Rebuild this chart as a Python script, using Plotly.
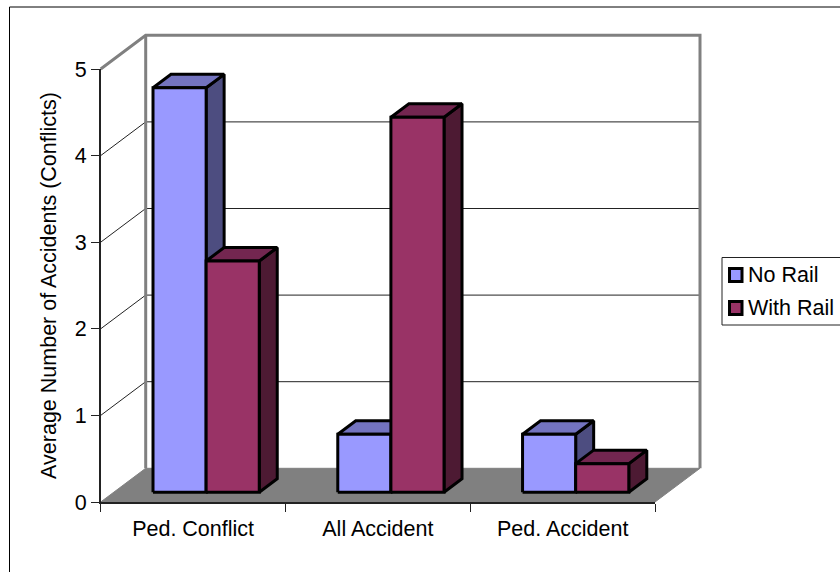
import plotly.graph_objects as go

categories = ["Ped. Conflict", "All Accident", "Ped. Accident"]
series_names = ["No Rail", "With Rail"]
no_rail = [4.67, 0.67, 0.67]
with_rail = [2.67, 4.33, 0.33]
y_ticks = [0, 1, 2, 3, 4, 5]

W, H = 840, 572
FONT = "Liberation Sans"
FS = 21.5

# pixel frame of the front plane of the 3D box
PX_L, PX_R = 100.7, 655.0
PX_Y0, PX_Y5 = 502.0, 69.0
DEPTH_PX_X, DEPTH_PX_Y = 45.0, 33.7
PAD = 12

per_cat = (PX_R - PX_L) / 3
per_val = (PX_Y0 - PX_Y5) / 5
DX = DEPTH_PX_X / per_cat   # full depth in category units
DY = DEPTH_PX_Y / per_val   # full depth in value units

# bars sit between these fractions of the depth
D_FRONT = 0.29
D_BACK = 0.69
GAP = 0.2125
BAR_W = (1 - 2 * GAP) / 2

NAVY = ("#9999FF", "#7373BF", "#4D4D80")
WINE = ("#993366", "#732650", "#4D1A33")


def proj(x, v, d):
    return x + d * DX, v + d * DY


def poly(points, fill, line="black", width=3, name=None):
    xs = [p[0] for p in points] + [points[0][0]]
    ys = [p[1] for p in points] + [points[0][1]]
    return go.Scatter(x=xs, y=ys, mode="lines", fill="toself", fillcolor=fill, name=name,
                      line=dict(color=line, width=width), showlegend=False,
                      hoverinfo="skip", xaxis="x", yaxis="y")


def seg(points, color, width):
    return go.Scatter(x=[p[0] for p in points], y=[p[1] for p in points], mode="lines",
                      line=dict(color=color, width=width), showlegend=False,
                      hoverinfo="skip", xaxis="x", yaxis="y")


def box(x0, x1, v, colors, name):
    front, top, side = colors
    out = []
    # side, top, then front so the front outline stays on top
    out.append(poly([proj(x1, 0, D_FRONT), proj(x1, 0, D_BACK), proj(x1, v, D_BACK), proj(x1, v, D_FRONT)], side, name=name))
    out.append(poly([proj(x0, v, D_FRONT), proj(x1, v, D_FRONT), proj(x1, v, D_BACK), proj(x0, v, D_BACK)], top, name=name))
    out.append(poly([proj(x0, 0, D_FRONT), proj(x1, 0, D_FRONT), proj(x1, v, D_FRONT), proj(x0, v, D_FRONT)], front, name=name))
    return out


fig = go.Figure()

# floor
fig.add_trace(poly([proj(0, 0, 0), proj(3, 0, 0), proj(3, 0, 1), proj(0, 0, 1)], "#808080", "#808080", 1))

# gridlines over left wall and back wall
for t in y_ticks[1:-1]:
    fig.add_trace(seg([proj(0, t, 0), proj(0, t, 1), proj(3, t, 1)], "#222222", 1))

# wall edges
fig.add_trace(seg([proj(0, 5, 0), proj(0, 5, 1), proj(3, 5, 1), proj(3, 0, 1)], "#808080", 3))
fig.add_trace(seg([proj(0, 5, 1), proj(0, 0, 1)], "#808080", 3))

for i in range(len(categories)):
    x0 = i + GAP
    fig.add_traces(box(x0, x0 + BAR_W, no_rail[i], NAVY, series_names[0]))
    fig.add_traces(box(x0 + BAR_W, x0 + 2 * BAR_W, with_rail[i], WINE, series_names[1]))

# keeps the visible axes alive
fig.add_trace(go.Scatter(x=[None], y=[None], mode="markers", showlegend=False,
                         xaxis="x2", yaxis="y2"))


def px_x(p):
    return p / W


def px_y(p):
    return 1 - p / H


# hand made legend, the frame runs off the right edge like the reference
shapes = [
    dict(type="rect", xref="paper", yref="paper", x0=px_x(9.5), x1=1.2, y0=-0.2, y1=px_y(7),
         line=dict(color="black", width=1), fillcolor="rgba(0,0,0,0)", layer="below"),
    dict(type="rect", xref="paper", yref="paper", x0=px_x(722), x1=1.2, y0=px_y(325), y1=px_y(257.5),
         line=dict(color="#222222", width=1), fillcolor="white", layer="above"),
]
annotations = []
for name, colors, cy in zip(series_names, (NAVY, WINE), (275, 308)):
    shapes.append(dict(type="rect", xref="paper", yref="paper",
                       x0=px_x(729.5), x1=px_x(742), y0=px_y(cy + 6.5), y1=px_y(cy - 6.5),
                       line=dict(color="black", width=3), fillcolor=colors[0], layer="above"))
    annotations.append(dict(xref="paper", yref="paper", x=px_x(745.5), y=px_y(cy),
                            xanchor="left", yanchor="middle", text=name, showarrow=False,
                            font=dict(family=FONT, size=FS, color="black")))

# hidden axes for the 3D geometry, same scale as the visible ones
geo_x = [-PAD / per_cat, 3 + (DEPTH_PX_X + PAD) / per_cat]
geo_y = [-PAD / per_val, 5 + (DEPTH_PX_Y + PAD) / per_val]

fig.update_layout(
    width=W, height=H,
    margin=dict(l=0, r=0, t=0, b=0, autoexpand=False),
    paper_bgcolor="white", plot_bgcolor="rgba(0,0,0,0)",
    showlegend=False,
    font=dict(family=FONT, size=FS, color="black"),
    xaxis=dict(domain=[(PX_L - PAD) / W, (PX_R + DEPTH_PX_X + PAD) / W], range=geo_x,
               visible=False, anchor="y"),
    yaxis=dict(domain=[1 - (PX_Y0 + PAD) / H, 1 - (PX_Y5 - DEPTH_PX_Y - PAD) / H], range=geo_y,
               visible=False, anchor="x"),
    xaxis2=dict(domain=[PX_L / W, PX_R / W], range=[0, 3], anchor="y2",
                tickmode="array", tickvals=[0.5, 1.5, 2.5], ticktext=categories,
                ticks="", ticklen=0, showgrid=False, zeroline=False, ticklabelstandoff=6,
                showline=True, linecolor="#222222", linewidth=1.5,
                minor=dict(tickmode="array", tickvals=[0, 1, 2, 3], ticks="outside",
                           ticklen=8, tickcolor="#222222", tickwidth=1, showgrid=False),
                tickfont=dict(family=FONT, size=FS)),
    yaxis2=dict(domain=[1 - PX_Y0 / H, 1 - PX_Y5 / H], range=[0, 5], anchor="x2",
                tickmode="array", tickvals=y_ticks, ticks="outside", ticklen=8,
                tickcolor="#222222", tickwidth=1, showgrid=False, zeroline=False,
                showline=True, linecolor="#222222", linewidth=1.5,
                tickfont=dict(family=FONT, size=FS),
                title=dict(text="Average Number of Accidents (Conflicts)",
                           font=dict(family=FONT, size=FS), standoff=12)),
    shapes=shapes,
    annotations=annotations,
)

fig.write_html("out.html", config=dict(displayModeBar=False),
               post_script="document.body.style.margin='0';")
